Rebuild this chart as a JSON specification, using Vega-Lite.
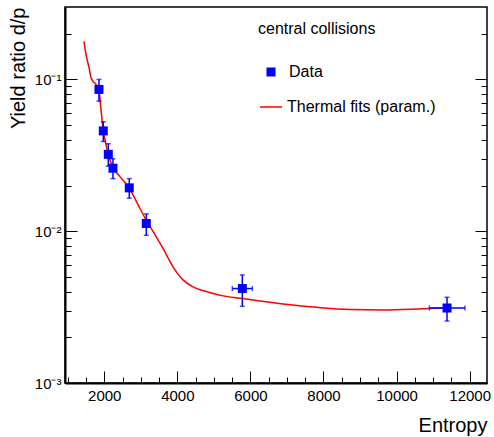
{
  "$schema": "https://vega.github.io/schema/vega-lite/v6.json",
  "autosize": {"type": "none"},
  "width": 422,
  "height": 376,
  "padding": {"left": 65, "top": 7, "right": 7, "bottom": 54},
  "background": "white",
  "config": {
    "font": "Liberation Sans",
    "view": {"stroke": "#000", "strokeWidth": 1.5},
    "axis": {"grid": false, "labelColor": "#000", "titleColor": "#000", "tickColor": "#000", "domainColor": "#000", "labelFont": "Liberation Sans", "titleFont": "Liberation Sans"},
    "legend": {"labelFont": "Liberation Sans", "titleFont": "Liberation Sans", "labelColor": "#000", "titleColor": "#000"}
  },
  "datasets": {
    "pts": [
      {"x": 1855, "y": 0.0859, "ylo": 0.0719, "yhi": 0.100, "xlo": 1855, "xhi": 1855, "series": "Data"},
      {"x": 1973, "y": 0.0458, "ylo": 0.0390, "yhi": 0.0526, "xlo": 1973, "xhi": 1973, "series": "Data"},
      {"x": 2110, "y": 0.0321, "ylo": 0.0268, "yhi": 0.0377, "xlo": 2110, "xhi": 2110, "series": "Data"},
      {"x": 2238, "y": 0.0260, "ylo": 0.0222, "yhi": 0.0300, "xlo": 2238, "xhi": 2238, "series": "Data"},
      {"x": 2684, "y": 0.0193, "ylo": 0.0165, "yhi": 0.0222, "xlo": 2684, "xhi": 2684, "series": "Data"},
      {"x": 3150, "y": 0.01125, "ylo": 0.0094, "yhi": 0.0130, "xlo": 3150, "xhi": 3150, "series": "Data"},
      {"x": 5778, "y": 0.00419, "ylo": 0.0032, "yhi": 0.00515, "xlo": 5504, "xhi": 6051, "series": "Data"},
      {"x": 11381, "y": 0.00312, "ylo": 0.00256, "yhi": 0.00367, "xlo": 10897, "xhi": 11874, "series": "Data"}
    ],
    "fit": [
      {"x": 1444, "y": 0.178, "series": "Thermal fits (param.)"},
      {"x": 1499, "y": 0.146, "series": "Thermal fits (param.)"},
      {"x": 1581, "y": 0.120, "series": "Thermal fits (param.)"},
      {"x": 1636, "y": 0.103, "series": "Thermal fits (param.)"},
      {"x": 1691, "y": 0.097, "series": "Thermal fits (param.)"},
      {"x": 1773, "y": 0.0927, "series": "Thermal fits (param.)"},
      {"x": 1855, "y": 0.0846, "series": "Thermal fits (param.)"},
      {"x": 1910, "y": 0.0634, "series": "Thermal fits (param.)"},
      {"x": 1973, "y": 0.0461, "series": "Thermal fits (param.)"},
      {"x": 2047, "y": 0.0372, "series": "Thermal fits (param.)"},
      {"x": 2110, "y": 0.0320, "series": "Thermal fits (param.)"},
      {"x": 2238, "y": 0.0263, "series": "Thermal fits (param.)"},
      {"x": 2430, "y": 0.0229, "series": "Thermal fits (param.)"},
      {"x": 2676, "y": 0.0194, "series": "Thermal fits (param.)"},
      {"x": 2895, "y": 0.01542, "series": "Thermal fits (param.)"},
      {"x": 3142, "y": 0.01190, "series": "Thermal fits (param.)"},
      {"x": 3388, "y": 0.00948, "series": "Thermal fits (param.)"},
      {"x": 3607, "y": 0.0077, "series": "Thermal fits (param.)"},
      {"x": 3881, "y": 0.00583, "series": "Thermal fits (param.)"},
      {"x": 4154, "y": 0.00478, "series": "Thermal fits (param.)"},
      {"x": 4428, "y": 0.0043, "series": "Thermal fits (param.)"},
      {"x": 4811, "y": 0.00399, "series": "Thermal fits (param.)"},
      {"x": 5249, "y": 0.00375, "series": "Thermal fits (param.)"},
      {"x": 5715, "y": 0.00362, "series": "Thermal fits (param.)"},
      {"x": 6208, "y": 0.00348, "series": "Thermal fits (param.)"},
      {"x": 6892, "y": 0.00332, "series": "Thermal fits (param.)"},
      {"x": 7823, "y": 0.00315, "series": "Thermal fits (param.)"},
      {"x": 8726, "y": 0.00305, "series": "Thermal fits (param.)"},
      {"x": 9629, "y": 0.00303, "series": "Thermal fits (param.)"},
      {"x": 10560, "y": 0.00307, "series": "Thermal fits (param.)"},
      {"x": 11381, "y": 0.00313, "series": "Thermal fits (param.)"}
    ]
  },
  "resolve": {"axis": {"x": "independent", "y": "independent"}},
  "layer": [
    {
      "data": {"name": "fit"},
      "mark": {"type": "line", "strokeWidth": 1.5, "interpolate": "monotone"},
      "encoding": {
        "x": {"field": "x", "type": "quantitative",
          "scale": {"domain": [925, 12475], "nice": false, "zero": false},
          "axis": {"orient": "bottom", "values": [2000, 4000, 6000, 8000, 10000, 12000], "tickSize": -12, "tickWidth": 1, "domain": true, "domainWidth": 2, "labelFontSize": 15, "labelPadding": 17, "format": "d", "title": "Entropy", "titleFontSize": 20, "titleFontWeight": "normal", "titleAnchor": "end", "titlePadding": 12}},
        "y": {"field": "y", "type": "quantitative",
          "scale": {"type": "log", "domain": [0.001, 0.3], "nice": false},
          "axis": {"orient": "left", "values": [0.001, 0.01, 0.1], "tickSize": -12, "tickWidth": 1, "domain": true, "domainWidth": 2, "labelFontSize": 15, "labelPadding": 16, "labelExpr": "datum.value > 0.05 ? '10⁻¹' : (datum.value > 0.005 ? '10⁻²' : '10⁻³')", "title": "Yield ratio d/p", "titleFontSize": 20, "titleFontWeight": "normal", "titleAnchor": "end", "titlePadding": 6}},
        "color": {"field": "series", "type": "nominal",
          "scale": {"domain": ["Thermal fits (param.)"], "range": ["#ff0000"]},
          "legend": {"orient": "none", "legendX": 194, "legendY": 88, "title": null, "padding": 0, "symbolType": "stroke", "symbolSize": 484, "symbolStrokeWidth": 1.5, "labelFontSize": 16, "labelOffset": 4}}
      }
    },
    {
      "data": {"name": "pts"},
      "mark": {"type": "rule", "color": "#0000ff", "strokeWidth": 1.5},
      "encoding": {
        "x": {"field": "x", "type": "quantitative",
          "axis": {"orient": "bottom", "values": [1000, 1500, 2500, 3000, 3500, 4500, 5000, 5500, 6500, 7000, 7500, 8500, 9000, 9500, 10500, 11000, 11500], "tickSize": -6, "tickWidth": 1, "domain": false, "labels": false, "title": null}},
        "y": {"field": "ylo", "type": "quantitative",
          "axis": {"orient": "left", "values": [0.002, 0.003, 0.004, 0.005, 0.006, 0.007, 0.008, 0.009, 0.02, 0.03, 0.04, 0.05, 0.06, 0.07, 0.08, 0.09, 0.2], "tickSize": -6, "tickWidth": 1, "domain": false, "labels": false, "title": null}},
        "y2": {"field": "yhi"}
      }
    },
    {
      "data": {"name": "pts"},
      "transform": [{"filter": "datum.xhi > datum.xlo"}],
      "mark": {"type": "rule", "color": "#0000ff", "strokeWidth": 1.5},
      "encoding": {
        "x": {"field": "xlo", "type": "quantitative", "axis": null},
        "x2": {"field": "xhi"},
        "y": {"field": "y", "type": "quantitative",
          "axis": {"orient": "right", "values": [0.001, 0.01, 0.1], "tickSize": -12, "tickWidth": 1, "domain": false, "labels": false, "title": null}}
      }
    },
    {
      "data": {"name": "pts"},
      "mark": {"type": "tick", "orient": "horizontal", "color": "#0000ff", "size": 5, "thickness": 1.5},
      "encoding": {
        "x": {"field": "x", "type": "quantitative", "axis": null},
        "y": {"field": "ylo", "type": "quantitative",
          "axis": {"orient": "right", "values": [0.002, 0.003, 0.004, 0.005, 0.006, 0.007, 0.008, 0.009, 0.02, 0.03, 0.04, 0.05, 0.06, 0.07, 0.08, 0.09, 0.2], "tickSize": -6, "tickWidth": 1, "domain": false, "labels": false, "title": null}}
      }
    },
    {
      "data": {"name": "pts"},
      "mark": {"type": "tick", "orient": "horizontal", "color": "#0000ff", "size": 5, "thickness": 1.5},
      "encoding": {
        "x": {"field": "x", "type": "quantitative", "axis": null},
        "y": {"field": "yhi", "type": "quantitative", "axis": null}
      }
    },
    {
      "data": {"name": "pts"},
      "transform": [{"filter": "datum.xhi > datum.xlo"}],
      "mark": {"type": "tick", "orient": "vertical", "color": "#0000ff", "size": 5, "thickness": 1.5},
      "encoding": {
        "x": {"field": "xlo", "type": "quantitative", "axis": null},
        "y": {"field": "y", "type": "quantitative", "axis": null}
      }
    },
    {
      "data": {"name": "pts"},
      "transform": [{"filter": "datum.xhi > datum.xlo"}],
      "mark": {"type": "tick", "orient": "vertical", "color": "#0000ff", "size": 5, "thickness": 1.5},
      "encoding": {
        "x": {"field": "xhi", "type": "quantitative", "axis": null},
        "y": {"field": "y", "type": "quantitative", "axis": null}
      }
    },
    {
      "data": {"name": "pts"},
      "mark": {"type": "point", "filled": true, "size": 81, "color": "#0000ff", "opacity": 1},
      "encoding": {
        "x": {"field": "x", "type": "quantitative", "axis": null},
        "y": {"field": "y", "type": "quantitative", "axis": null},
        "shape": {"field": "series", "type": "nominal",
          "scale": {"domain": ["Data"], "range": ["square"]},
          "legend": {"orient": "none", "legendX": 193, "legendY": 14, "title": "central collisions", "titleFontSize": 16, "titleFontWeight": "normal", "titlePadding": 27, "padding": 0, "symbolSize": 81, "symbolFillColor": "#0000ff", "symbolStrokeWidth": 0, "symbolOffset": 5, "labelFontSize": 16, "labelOffset": 10}}
      }
    }
  ]
}
